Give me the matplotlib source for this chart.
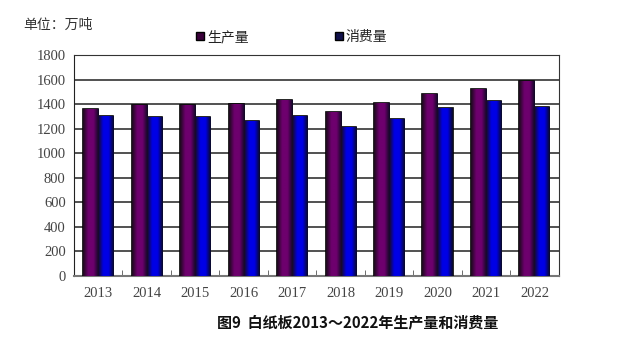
import numpy as np
import matplotlib.pyplot as plt
from matplotlib.colors import LinearSegmentedColormap
from matplotlib.lines import Line2D

plt.rcParams['font.family'] = ['Noto Sans CJK SC', 'DejaVu Sans']

years = ['2013', '2014', '2015', '2016', '2017', '2018', '2019', '2020', '2021', '2022']
production = [1360, 1395, 1390, 1403, 1433, 1333, 1409, 1485, 1520, 1590]
consumption = [1305, 1297, 1297, 1265, 1300, 1216, 1276, 1368, 1425, 1374]

fig = plt.figure(figsize=(6.27, 3.62), dpi=100)
ax = fig.add_axes([0.118, 0.2376, 0.773, 0.6104])

x = np.arange(len(years))
w = 0.31

# gradient: dark at edges, bright in the middle
def shade(c):
    return LinearSegmentedColormap.from_list('g', ['#1a0a1a', c, c, '#0a0a20'])

cm_prod = shade('#6e006e')
cm_cons = shade('#0000e6')
grad = np.linspace(0, 1, 64).reshape(1, -1)

b1 = ax.bar(x - w / 2, production, w, color='#6e006e', edgecolor='black', linewidth=1.2, zorder=3)
b2 = ax.bar(x + w / 2, consumption, w, color='#0000e6', edgecolor='black', linewidth=1.2, zorder=3)
for bars, cm in ((b1, cm_prod), (b2, cm_cons)):
    for r in bars:
        x0, y0 = r.get_x(), r.get_y()
        im = ax.imshow(grad, cmap=cm, aspect='auto', extent=(x0, x0 + r.get_width(), y0, y0 + r.get_height()),
                       zorder=3.5, interpolation='bicubic')
        im.set_clip_path(r)

ax.set_xlim(-0.5, len(years) - 0.5)
ax.set_ylim(0, 1800)
ax.set_yticks(range(0, 1801, 200))
ax.yaxis.grid(True, color='#222222', linewidth=1.1, zorder=0)
ax.set_axisbelow(True)

ax.set_xticks(x)
ax.set_xticklabels(years)
ax.set_xticks(np.arange(-0.5, len(years)), minor=True)
ax.tick_params(axis='x', which='major', length=0, pad=8)
ax.tick_params(axis='x', which='minor', direction='in', length=4, color='#555555')
ax.tick_params(axis='y', length=0, pad=6)
for lbl in ax.get_xticklabels() + ax.get_yticklabels():
    lbl.set_fontfamily('Liberation Serif')
    lbl.set_fontsize(10.5)
    lbl.set_color('#444444')

for s in ['top', 'right']:
    ax.spines[s].set_color('#333333')
    ax.spines[s].set_linewidth(0.8)
ax.spines['left'].set_color('#222222')
ax.spines['bottom'].set_color('#777777')
ax.spines['bottom'].set_linewidth(1.5)

fig.text(0.037, 0.93, '单位：万吨', fontsize=10, color='#333333', va='center')

handles = [Line2D([], [], marker='s', linestyle='', markersize=6, markerfacecolor='#3a003a', markeredgecolor='black'),
           Line2D([], [], marker='s', linestyle='', markersize=6, markerfacecolor='#10104a', markeredgecolor='black')]
fig.legend(handles, ['生产量', '消费量'], ncol=2, frameon=False, loc='center',
           bbox_to_anchor=(0.465, 0.897), fontsize=10, handlelength=0.6, handletextpad=0.2,
           columnspacing=6.2, labelcolor='#222222')

fig.text(0.57, 0.11, '图9  白纸板2013～2022年生产量和消费量', fontsize=10.8, fontweight='bold',
         ha='center', va='center', color='#111111')

fig.savefig('out.png', dpi=100)
